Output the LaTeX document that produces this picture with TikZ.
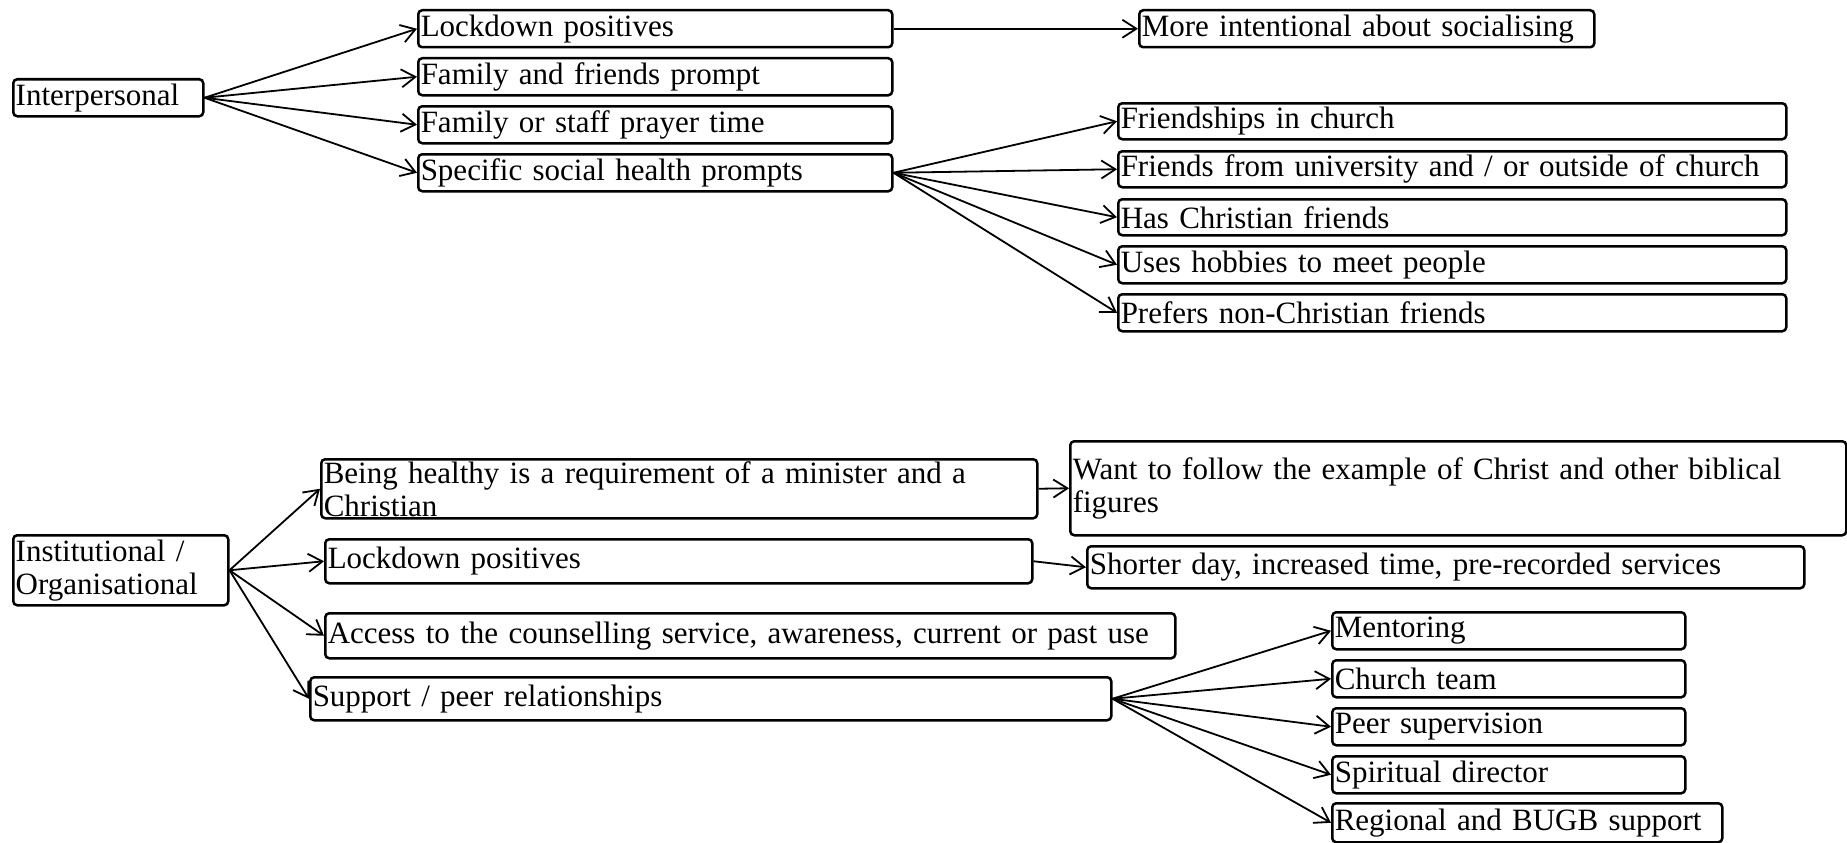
\documentclass[tikz,border=0pt]{standalone}
\usepackage{fontspec}
\setmainfont{Liberation Serif}
\usetikzlibrary{arrows.meta}
\begin{document}
\begin{tikzpicture}[x=1pt,y=-1pt,
  bx/.style={draw, line width=2.5pt, rounded corners=4pt, anchor=north west,
    inner xsep=2.5pt, inner ysep=0pt, align=left, font=\fontsize{31}{33}\selectfont},
  arr/.style={line width=1.8pt, -{Straight Barb[length=14pt,width=18pt,line width=1.8pt]}}]
\useasboundingbox (0,0) rectangle (1847,843);
% top group
\node[bx, text width=185pt, minimum height=37pt] (inter) at (12,78) {Interpersonal};
\node[bx, text width=469pt, minimum height=37pt] (lock1) at (417,9) {Lockdown positives};
\node[bx, text width=469pt, minimum height=37pt] (fam1) at (417,57) {Family and friends prompt};
\node[bx, text width=469pt, minimum height=37pt] (fam2) at (417,105) {Family or staff prayer time};
\node[bx, text width=469pt, minimum height=37pt] (spec) at (417,153) {Specific social health prompts};
\node[bx, text width=450pt, minimum height=37pt] (more) at (1138,9) {More intentional about socialising};
\node[bx, text width=663pt, minimum height=36pt] (fr1) at (1117,102) {Friendships in church};
\node[bx, text width=663pt, minimum height=36pt] (fr2) at (1117,150) {Friends from university and / or outside of church};
\node[bx, text width=663pt, minimum height=36pt] (fr3) at (1117,198) {Has Christian friends};
\node[bx, text width=663pt, minimum height=37pt] (fr4) at (1117,245) {Uses hobbies to meet people};
\node[bx, text width=663pt, minimum height=37pt] (fr5) at (1117,293) {Prefers non-Christian friends};
% bottom group
\node[bx, text width=210pt, minimum height=70pt] (inst) at (12,534) {Institutional /\\Organisational};
\node[bx, text width=711pt, minimum height=59pt] (heal) at (320,458) {Being healthy is a requirement of a minister and a\\Christian};
\node[bx, text width=771pt, minimum height=94pt] (want) at (1069,440) {Want to follow the example of Christ and other biblical\\figures};
\node[bx, text width=702pt, minimum height=44pt] (lock2) at (324,538) {Lockdown positives};
\node[bx, text width=712pt, minimum height=42pt] (short) at (1086,545) {Shorter day, increased time, pre-recorded services};
\node[bx, text width=845pt, minimum height=45pt] (access) at (324,612) {Access to the counselling service, awareness, current or past use};
\node[bx, text width=796pt, minimum height=43pt] (supp) at (309,676) {Support / peer relationships};
\node[bx, text width=348pt, minimum height=37pt] (m1) at (1331,611) {Mentoring};
\node[bx, text width=348pt, minimum height=37pt] (m2) at (1331,659) {Church team};
\node[bx, text width=348pt, minimum height=37pt] (m3) at (1331,707) {Peer supervision};
\node[bx, text width=348pt, minimum height=37pt] (m4) at (1331,755) {Spiritual director};
\node[bx, text width=385pt, minimum height=39pt] (m5) at (1331,802) {Regional and BUGB support};
% connectors
\foreach \t in {lock1,fam1,fam2,spec} \draw[arr] (inter.east) -- (\t.west);
\draw[arr] (lock1.east) -- (more.west);
\foreach \t in {fr1,fr2,fr3,fr4,fr5} \draw[arr] (spec.east) -- (\t.west);
\foreach \t in {heal,lock2,access,supp} \draw[arr] (inst.east) -- (\t.west);
\draw[arr] (heal.east) -- (want.west);
\draw[arr] (lock2.east) -- (short.west);
\foreach \t in {m1,m2,m3,m4,m5} \draw[arr] (supp.east) -- (\t.west);
\end{tikzpicture}
\end{document}
